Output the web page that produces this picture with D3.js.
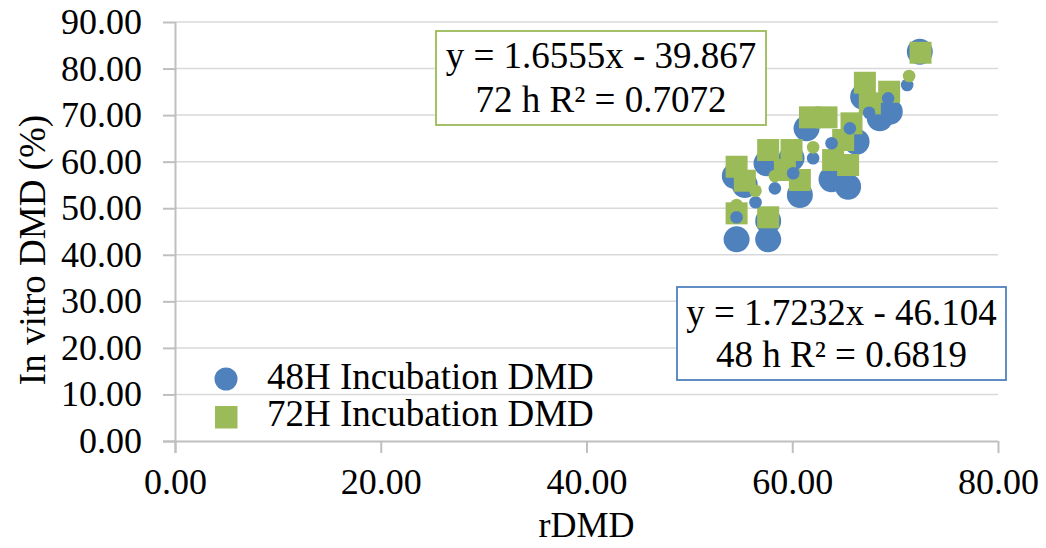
<!DOCTYPE html>
<html>
<head>
<meta charset="utf-8">
<script src="https://cdn.jsdelivr.net/npm/d3@7/dist/d3.min.js"></script>
<style>
  html, body { margin: 0; padding: 0; background: #fff; }
  svg { display: block; }
  text { font-family: "Liberation Serif", "Times New Roman", serif; fill: #000; }
</style>
</head>
<body>
<svg id="chart" width="1046" height="548"></svg>
<script>
// rDMD (x) vs in vitro DMD (y), 48 h incubation
const obs48 = [
  [54.59, 43.32], [57.66, 43.32], [57.66, 47.25], [54.42, 56.92],
  [55.39, 54.98], [57.50, 59.64], [59.93, 60.72], [60.74, 52.84],
  [63.82, 56.21], [65.43, 54.62], [66.25, 64.28], [61.39, 67.16],
  [66.89, 73.95], [68.51, 69.31], [69.48, 70.73], [72.40, 83.61]
];
// rDMD (x) vs in vitro DMD (y), 72 h incubation
const obs72 = [
  [54.59, 48.90], [57.66, 48.05], [54.59, 58.91], [55.39, 55.91],
  [57.66, 62.50], [59.93, 62.50], [60.74, 56.06], [59.28, 58.21],
  [63.97, 60.35], [65.43, 59.28], [61.72, 69.52], [63.33, 69.52],
  [65.76, 68.23], [67.06, 76.95], [67.54, 72.53], [69.42, 75.02],
  [72.47, 83.40], [64.95, 64.65]
];
// fitted values shown as small markers
const fit48 = [
  [54.59, 48.05], [56.43, 51.27], [58.31, 54.27], [60.09, 57.50],
  [62.03, 60.72], [63.82, 63.94], [65.60, 67.16], [67.47, 70.51],
  [69.32, 73.60], [71.17, 76.46]
];
const fit72 = [
  [54.59, 50.69], [56.43, 53.76], [58.31, 56.92], [62.03, 63.08],
  [71.36, 78.39]
];

const xTicks = [0, 20, 40, 60, 80];
const yTicks = [0, 10, 20, 30, 40, 50, 60, 70, 80, 90];
const seriesNames = ["48H Incubation DMD", "72H Incubation DMD"];
const eq72 = ["y = 1.6555x - 39.867", "72 h R\u00B2 = 0.7072"];
const eq48 = ["y = 1.7232x - 46.104", "48 h R\u00B2 = 0.6819"];

const BLUE = "#4f81bd", GREEN = "#9bbb59";
const FS = 36, FS_BOX = 37;

const svg = d3.select("#chart");
const x = d3.scaleLinear().domain([0, 80]).range([175, 998]);
const y = d3.scaleLinear().domain([0, 90]).range([441, 22]);

// gridlines
svg.append("g").selectAll("line").data(yTicks.filter(d => d > 0)).join("line")
  .attr("x1", x(0)).attr("x2", x(80))
  .attr("y1", d => y(d)).attr("y2", d => y(d))
  .attr("stroke", "#d9d9d9").attr("stroke-width", 1.5);

// axes
const fmt = d3.format(".2f");
const yAxis = svg.append("g").attr("transform", `translate(${x(0)},0)`)
  .call(d3.axisLeft(y).tickValues(yTicks).tickFormat(fmt).tickSize(12).tickPadding(21));
const xAxis = svg.append("g").attr("transform", `translate(0,${y(0)})`)
  .call(d3.axisBottom(x).tickValues(xTicks).tickFormat(fmt).tickSize(12).tickPadding(15));
[yAxis, xAxis].forEach(a => {
  a.select(".domain").attr("stroke", "#bfbfbf").attr("stroke-width", 2);
  a.selectAll(".tick line").attr("stroke", "#bfbfbf").attr("stroke-width", 2);
  a.selectAll(".tick text").attr("font-family", "Liberation Serif").attr("font-size", FS).attr("fill", "#000");
});
xAxis.select(".domain").attr("d", `M${x(0) - 12},0.5H${x(80)}`);
yAxis.select(".domain").attr("d", `M0.5,${y(0) + 12}V${y(90)}`);

// axis titles
svg.append("text").attr("x", (x(0) + x(80)) / 2).attr("y", 537)
  .attr("text-anchor", "middle").attr("font-size", FS).text("rDMD");
svg.append("text").attr("transform", "translate(45,250) rotate(-90)")
  .attr("text-anchor", "middle").attr("font-size", FS_BOX).text("In vitro DMD (%)");

// markers
const sq = 22;
svg.append("g").selectAll("circle").data(obs48).join("circle")
  .attr("cx", d => x(d[0])).attr("cy", d => y(d[1])).attr("r", 13).attr("fill", BLUE);
svg.append("g").selectAll("rect").data(obs72).join("rect")
  .attr("x", d => x(d[0]) - sq / 2).attr("y", d => y(d[1]) - sq / 2)
  .attr("width", sq).attr("height", sq).attr("fill", GREEN);
svg.append("g").selectAll("circle").data(fit48).join("circle")
  .attr("cx", d => x(d[0])).attr("cy", d => y(d[1])).attr("r", 6.3).attr("fill", BLUE);
svg.append("g").selectAll("circle").data(fit72).join("circle")
  .attr("cx", d => x(d[0])).attr("cy", d => y(d[1])).attr("r", 6.3).attr("fill", GREEN);

// equation boxes
function eqBox(lines, x0, y0, w, h, color, baselines) {
  const g = svg.append("g");
  g.append("rect").attr("x", x0).attr("y", y0).attr("width", w).attr("height", h)
    .attr("fill", "#fff").attr("stroke", color).attr("stroke-width", 1.8);
  g.selectAll("text").data(lines).join("text")
    .attr("x", x0 + w / 2).attr("y", (d, i) => baselines[i])
    .attr("text-anchor", "middle").attr("font-size", FS_BOX).text(d => d);
}
eqBox(eq72, 436, 31, 330, 94, GREEN, [68, 112]);
eqBox(eq48, 677, 287, 329, 93, BLUE, [325, 367]);

// legend
const lg = svg.append("g");
lg.append("circle").attr("cx", 226).attr("cy", 379).attr("r", 11.5).attr("fill", BLUE);
lg.append("rect").attr("x", 215).attr("y", 406).attr("width", 22.5).attr("height", 22.5).attr("fill", GREEN);
lg.selectAll("text").data(seriesNames).join("text")
  .attr("x", 267).attr("y", (d, i) => 389 + i * 37)
  .attr("font-size", FS_BOX).text(d => d);
</script>
</body>
</html>
